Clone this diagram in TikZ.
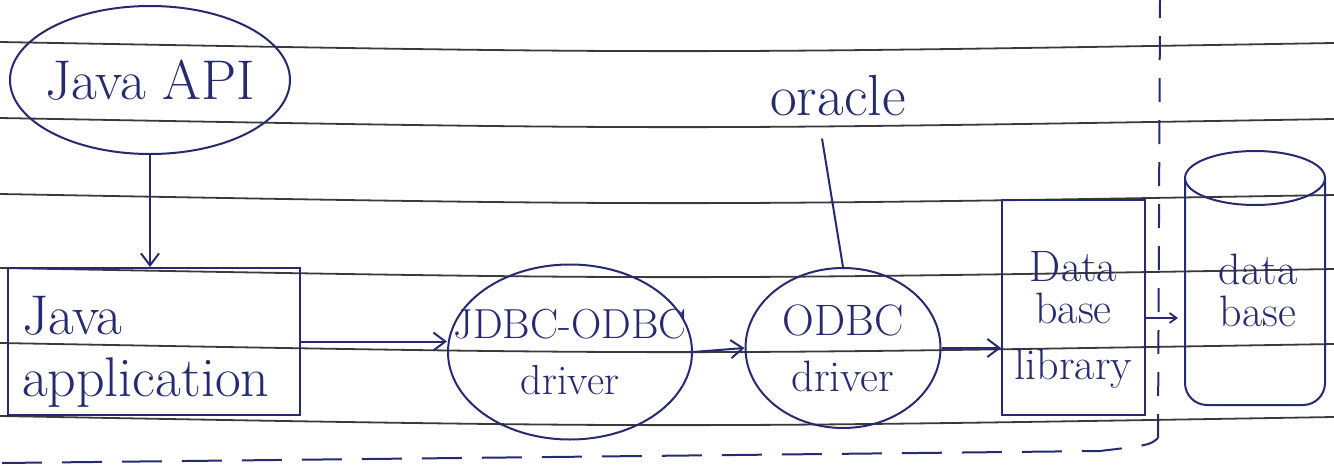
\documentclass[tikz,border=0pt]{standalone}
\usetikzlibrary{arrows.meta,shapes.geometric}
\definecolor{ink}{HTML}{262A70}
\definecolor{rule}{HTML}{3A3A3A}
\begin{document}
\begin{tikzpicture}[x=1pt,y=-1pt,
  inkline/.style={draw=ink,line width=2pt},
  arr/.style={inkline,-{Straight Barb[length=12pt,width=18pt,line width=2pt]}},
  oval/.style={ellipse,draw=ink,line width=2pt,inner sep=0pt},
  boxn/.style={rectangle,draw=ink,line width=2pt,inner sep=0pt},
  hand/.style={text=ink,inner sep=0pt,align=center},
  ruled/.style={draw=rule,line width=1.8pt},
  fs/.style={font=\fontsize{#1}{#1}\selectfont}
]
\useasboundingbox (0,0) rectangle (1334,466);
% ruled paper lines
\foreach \y in {42,118,194,268,343,416}
  \draw[ruled] (0,\y) .. controls (667,\y+12) .. (1334,\y+1);

% nodes
\node[oval,minimum width=280pt,minimum height=148pt,
  label={[hand,fs=56]center:Java API}] (api) at (150,80) {};
\node[boxn,minimum width=292pt,minimum height=147pt,
  label={[hand,fs=56,align=left,text width=264pt,yshift=-10pt]center:Java\\[6pt]application}] (app) at (154,341.5) {};
\node[oval,minimum width=244pt,minimum height=175pt,
  label={[hand,fs=42]center:JDBC-ODBC\\[14pt]driver}] (jdbc) at (570,352) {};
\node[oval,minimum width=195pt,minimum height=160pt,
  label={[hand,fs=44]center:ODBC\\[12pt]driver}] (odbc) at (843,348) {};
\node[hand,fs=58] (oracle) at (838,96) {oracle};
\node[boxn,minimum width=143pt,minimum height=215pt,
  label={[hand,fs=44,yshift=-12pt]center:Data\\[-2pt]base\\[12pt]library}] (lib) at (1073.5,307.5) {};

% database cylinder
\draw[inkline] (1255,178) ellipse [x radius=70pt,y radius=27pt];
\draw[inkline,rounded corners=22pt] (1185,178) -- (1185,405) -- (1325,405) -- (1325,178);
\node[hand,fs=44] (db) at (1258,290) {data\\[-2pt]base};
\coordinate (dbw) at (1178,318);

% connectors
\draw[arr] (api.south) -- (app.north -| api.south);
\draw[arr] (app.east) -- (app.east -| jdbc.west);
\draw[arr] (jdbc.east) -- (odbc.west);
\draw[arr] (odbc.east) -- (lib.west |- odbc.east);
\draw[inkline] ([xshift=-16pt,yshift=-22pt]oracle.south) -- (odbc.north);
\draw[arr,-{Straight Barb[length=7pt,width=10pt,line width=1.8pt]}] (lib.east |- dbw) -- (dbw);

% dashed boundary
\draw[inkline,dash pattern=on 40pt off 20pt] (2,463) -- (1100,451) .. controls (1150,445) .. (1158,438);
\draw[inkline,dash pattern=on 24pt off 18pt] (1158,438) -- (1160,0);
\end{tikzpicture}
\end{document}
